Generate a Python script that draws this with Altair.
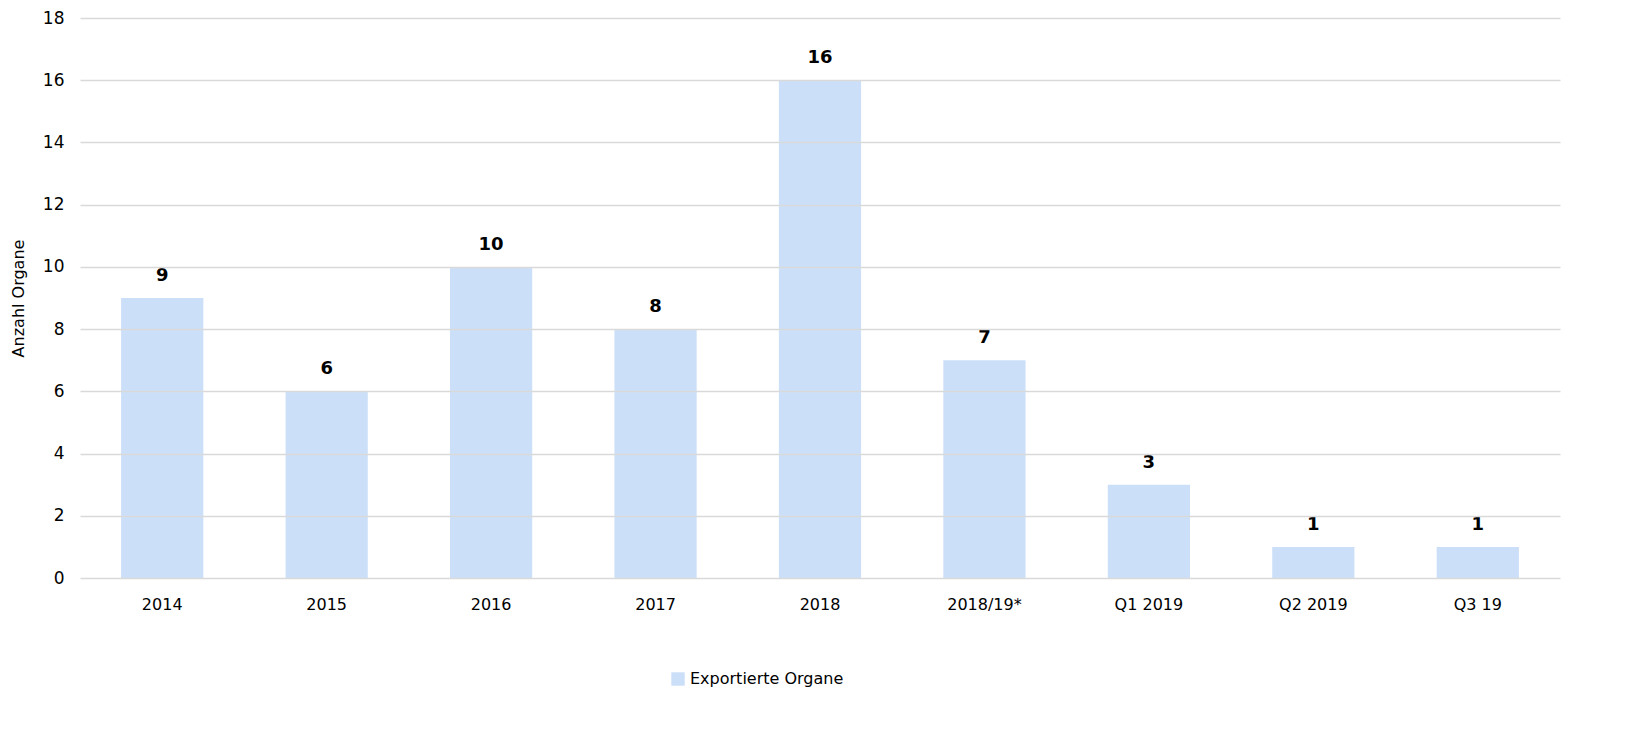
import altair as alt
import pandas as pd

categories = ["2014", "2015", "2016", "2017", "2018", "2018/19*", "Q1 2019", "Q2 2019", "Q3 19"]
values = [9, 6, 10, 8, 16, 7, 3, 1, 1]
series_name = "Exportierte Organe"

df = pd.DataFrame({"Kategorie": categories, "Wert": values, "Serie": [series_name] * len(categories)})

FONT = "DejaVu Sans"

base = alt.Chart(df)

bars = base.mark_bar(color="#CCDFF8").encode(
    x=alt.X("Kategorie:N", sort=categories,
            scale=alt.Scale(paddingInner=0.5, paddingOuter=0.25),
            axis=alt.Axis(title=None, labelAngle=0, labelFontSize=16, labelFont=FONT,
                          labelColor="#000000", labelPadding=18, ticks=False, domain=False,
                          grid=False)),
    y=alt.Y("Wert:Q", scale=alt.Scale(domain=[0, 18]),
            axis=alt.Axis(title="Anzahl Organe", titleFontSize=16, titleFont=FONT,
                          titleFontWeight="normal", titleColor="#000000", titlePadding=16,
                          values=list(range(0, 19, 2)), labelFontSize=17, labelFont=FONT,
                          labelColor="#000000", labelPadding=16, ticks=False, domain=False,
                          grid=True, gridColor="#D9D9D9", gridWidth=1.3, zindex=1)),
    color=alt.Color("Serie:N", scale=alt.Scale(range=["#CCDFF8"]),
                    legend=alt.Legend(title=None, orient="none", legendX=590, legendY=653,
                                      symbolType="square", symbolSize=180, labelFontSize=16,
                                      labelFont=FONT, labelColor="#000000", symbolStrokeWidth=0)),
)

labels = base.mark_text(baseline="bottom", dy=-13, fontSize=18, fontWeight="bold",
                        font=FONT, color="#000000").encode(
    x=alt.X("Kategorie:N", sort=categories),
    y=alt.Y("Wert:Q"),
    text=alt.Text("Wert:Q"),
)

chart = (bars + labels).properties(
    width=1480, height=560,
    autosize=alt.AutoSizeParams(type="none"),
    padding={"left": 72, "top": 10, "right": 80, "bottom": 140},
).configure_view(stroke=None).configure_axis(
    labelFont=FONT, titleFont=FONT
)

chart.save("out.html", embed_options={"renderer": "svg", "actions": False})
